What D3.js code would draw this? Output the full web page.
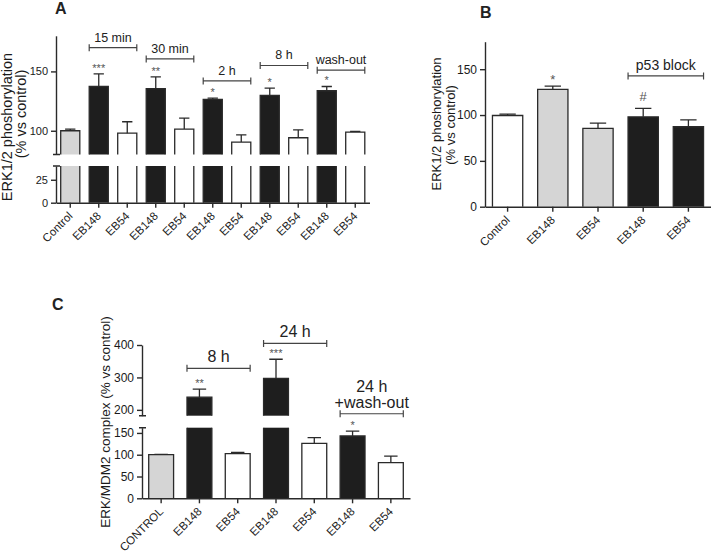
<!DOCTYPE html>
<html>
<head>
<meta charset="utf-8">
<script src="https://cdn.jsdelivr.net/npm/d3@7"></script>
<style>
  body { margin: 0; background: #fff; }
  svg { display: block; font-family: "Liberation Sans", Arial, sans-serif; }
</style>
</head>
<body>
<div id="chart"></div>
<script>
// Panel A : ERK1/2 phosphorylation, time course
const catsA = ["Control", "EB148", "EB54", "EB148", "EB54", "EB148", "EB54", "EB148", "EB54", "EB148", "EB54"];
const treatA = ["control", "EB148", "EB54", "EB148", "EB54", "EB148", "EB54", "EB148", "EB54", "EB148", "EB54"];
const meanA = [100, 137.3, 98, 135.4, 101.4, 126.4, 90.5, 129.8, 94.1, 133.7, 98.9];
const semA = [1.4, 10.7, 9.6, 10, 9.3, 1.1, 6.1, 6.2, 6.7, 3.6, 0.5];
const sigA = ["", "***", "", "**", "", "*", "", "*", "", "*", ""];
const bracketsA = [
  { from: 1, to: 2, level: 170, label: ["15 min"] },
  { from: 3, to: 4, level: 160.5, label: ["30 min"] },
  { from: 5, to: 6, level: 142, label: ["2 h"] },
  { from: 7, to: 8, level: 155, label: ["8 h"] },
  { from: 9, to: 10, level: 151, label: ["wash-out"] }
];
const ticksA = [[0, 25], [100, 150]];

// Panel B : p53 block
const catsB = ["Control", "EB148", "EB54", "EB148", "EB54"];
const treatB = ["control", "vehicle", "vehicle", "p53 block", "p53 block"];
const meanB = [99.5, 128, 85.4, 98, 87.2];
const semB = [1.5, 3.5, 5.8, 9.2, 7.6];
const sigB = ["", "*", "", "#", ""];
const bracketsB = [
  { from: 3, to: 4, level: 142.7, label: ["p53 block"] }
];
const ticksB = [[0, 50, 100, 150]];

// Panel C : ERK/MDM2 complex
const catsC = ["CONTROL", "EB148", "EB54", "EB148", "EB54", "EB148", "EB54"];
const treatC = ["control", "EB148", "EB54", "EB148", "EB54", "EB148", "EB54"];
const meanC = [100, 239, 102.5, 297, 126, 143, 82];
const semC = [1, 25, 3, 59, 13, 11, 15];
const sigC = ["", "**", "", "***", "", "*", ""];
const bracketsC = [
  { from: 1, to: 2, level: 328, label: ["8 h"] },
  { from: 3, to: 4, level: 405, label: ["24 h"] },
  { from: 5, to: 6, level: 188, label: ["24 h", "+wash-out"] }
];
const ticksC = [[0, 50, 100, 150], [200, 300, 400]];

const ink = "#2a2a2a";
const grey = "#d5d5d5";
const black = "#1e1e1e";

const svg = d3.select("#chart")
  .append("svg")
  .attr("width", 711)
  .attr("height", 554)
  .attr("viewBox", [0, 0, 711, 554]);

function drawPanel(p) {
  const g = svg.append("g");

  const x = d3.scaleBand()
    .domain(d3.range(p.cats.length))
    .range(p.xRange)
    .paddingInner(p.pad)
    .paddingOuter(p.pad / 2);
  const bw = x.bandwidth();

  // one linear scale per axis segment (broken axis)
  const segs = p.segs.map(s => ({ ...s, y: d3.scaleLinear().domain(s.domain).range(s.range) }));
  const pick = v => segs.find(s => v <= s.domain[1]) || segs[segs.length - 1];
  const yv = v => pick(v).y(v);

  const rows = p.mean.map((m, i) => ({ i, m, e: p.sem[i], k: p.kind[i], s: p.sig[i] }));

  // bars, cut at the breaks
  segs.forEach(s => {
    const [d0, d1] = s.domain;
    const vis = rows.filter(d => d.m > d0);
    const top = d => s.y(Math.min(d.m, d1));
    g.append("g").selectAll("rect").data(vis).join("rect")
      .attr("x", d => x(d.i))
      .attr("width", bw)
      .attr("y", top)
      .attr("height", d => s.y(d0) - top(d))
      .attr("fill", d => p.color(d.k));
    g.append("g").selectAll("path").data(vis).join("path")
      .attr("fill", "none")
      .attr("stroke", ink)
      .attr("stroke-width", 1.3)
      .attr("d", d => {
        const x0 = x(d.i), x1 = x(d.i) + bw, yb = s.y(d0), yt = top(d);
        return d.m <= d1
          ? `M${x0},${yb}V${yt}H${x1}V${yb}`
          : `M${x0},${yb}V${yt}M${x1},${yt}V${yb}`;
      });
  });

  // error bars (upper half only)
  const err = g.append("g").attr("stroke", ink).attr("stroke-width", 1.3).attr("fill", "none");
  err.selectAll("path").data(rows).join("path")
    .attr("d", d => {
      const cx = x(d.i) + bw / 2, y0 = yv(d.m), y1 = yv(d.m + d.e), c = bw * 0.27;
      return `M${cx},${y0}V${y1}M${cx - c},${y1}H${cx + c}`;
    });

  // significance marks
  g.append("g").selectAll("text").data(rows.filter(d => d.s)).join("text")
    .attr("x", d => x(d.i) + bw / 2)
    .attr("y", d => yv(d.m + d.e) - (d.s === "#" ? 7 : 2))
    .attr("text-anchor", "middle")
    .attr("font-size", p.sigSize)
    .attr("fill", "#555")
    .text(d => d.s);

  // group brackets
  p.brackets.forEach(b => {
    const yb = yv(b.level), x0 = x(b.from), x1 = x(b.to) + bw;
    g.append("path")
      .attr("fill", "none").attr("stroke", "#444").attr("stroke-width", 1.2)
      .attr("d", `M${x0},${yb - 3.5}V${yb + 3.5}M${x0},${yb}H${x1}M${x1},${yb - 3.5}V${yb + 3.5}`);
    b.label.forEach((t, j) => {
      g.append("text")
        .attr("x", (x0 + x1) / 2)
        .attr("y", yb - 6 - (b.label.length - 1 - j) * 16)
        .attr("text-anchor", "middle")
        .attr("font-size", p.bracketSize)
        .attr("fill", "#222")
        .text(t);
    });
  });

  // y axis segments
  segs.forEach(s => {
    g.append("g")
      .attr("transform", `translate(${p.xRange[0]},0)`)
      .call(d3.axisLeft(s.y).tickValues(s.ticks).tickSize(5).tickPadding(3).tickSizeOuter(0))
      .call(a => a.attr("font-family", null).attr("font-size", p.tickSize))
      .call(a => a.selectAll("path, line").attr("stroke", ink).attr("stroke-width", 1.4))
      .call(a => a.selectAll("text").attr("fill", "#1a1a1a"));
  });
  if (segs.length > 1) {
    const ax = p.xRange[0];
    const ends = [segs[0].range[1], segs[1].range[0]];
    g.append("path")
      .attr("stroke", ink).attr("stroke-width", 1.4)
      .attr("d", ends.map(e => `M${ax - 3},${e}H${ax + 4}`).join(""));
  }

  // x axis
  g.append("g")
    .attr("transform", `translate(0,${segs[0].range[0]})`)
    .call(d3.axisBottom(x).tickSize(5).tickSizeOuter(0).tickFormat(i => p.cats[i]))
    .call(a => a.attr("font-family", null).attr("font-size", 11.5))
    .call(a => a.selectAll("path, line").attr("stroke", ink).attr("stroke-width", 1.4))
    .call(a => a.selectAll("text")
      .attr("y", null).attr("dy", null)
      .attr("fill", "#222")
      .attr("text-anchor", "end")
      .attr("transform", "translate(3,14) rotate(-45)"));

  // axis title
  p.ylabel.forEach(l => {
    g.append("text")
      .attr("transform", `translate(${l.x},${l.y}) rotate(-90)`)
      .attr("text-anchor", "middle")
      .attr("font-size", l.size)
      .attr("fill", "#1a1a1a")
      .text(l.text);
  });

  // panel letter
  g.append("text")
    .attr("x", p.letter.x).attr("y", p.letter.y)
    .attr("font-size", 16).attr("font-weight", "bold").attr("fill", "#222")
    .text(p.letter.text);
}

const colorAC = d3.scaleOrdinal().domain(["control", "EB148", "EB54"]).range([grey, black, "#fff"]);
const colorB = d3.scaleOrdinal().domain(["control", "vehicle", "p53 block"]).range(["#fff", grey, black]);

drawPanel({
  cats: catsA, kind: treatA, mean: meanA, sem: semA, sig: sigA, brackets: bracketsA,
  color: colorAC, xRange: [56, 369.5], pad: 0.33,
  segs: [
    { domain: [0, 40], range: [202.7, 166], ticks: ticksA[0] },
    { domain: [80, 180], range: [154.5, 35.8], ticks: ticksA[1] }
  ],
  tickSize: 11, sigSize: 11, bracketSize: 12.5,
  ylabel: [
    { text: "ERK1/2 phoshorylation", x: 11.5, y: 127, size: 14.5 },
    { text: "(% vs control)", x: 25.5, y: 114, size: 14.5 }
  ],
  letter: { text: "A", x: 55, y: 14 }
});

drawPanel({
  cats: catsB, kind: treatB, mean: meanB, sem: semB, sig: sigB, brackets: bracketsB,
  color: colorB, xRange: [485, 711], pad: 0.33,
  segs: [
    { domain: [0, 180], range: [206.7, 41.7], ticks: ticksB[0] }
  ],
  tickSize: 12, sigSize: 13, bracketSize: 14,
  ylabel: [
    { text: "ERK1/2 phoshorylation", x: 440.5, y: 124, size: 13 },
    { text: "(% vs control)", x: 455, y: 125, size: 13 }
  ],
  letter: { text: "B", x: 480, y: 18 }
});

drawPanel({
  cats: catsC, kind: treatC, mean: meanC, sem: semC, sig: sigC, brackets: bracketsC,
  color: colorAC, xRange: [142, 410], pad: 0.35,
  segs: [
    { domain: [0, 162], range: [498.3, 427.7], ticks: ticksC[0] },
    { domain: [182, 400], range: [415.7, 345], ticks: ticksC[1] }
  ],
  tickSize: 12, sigSize: 11, bracketSize: 16,
  ylabel: [
    { text: "ERK/MDM2 complex (% vs control)", x: 110, y: 422, size: 13.5 }
  ],
  letter: { text: "C", x: 52, y: 310 }
});
</script>
</body>
</html>
